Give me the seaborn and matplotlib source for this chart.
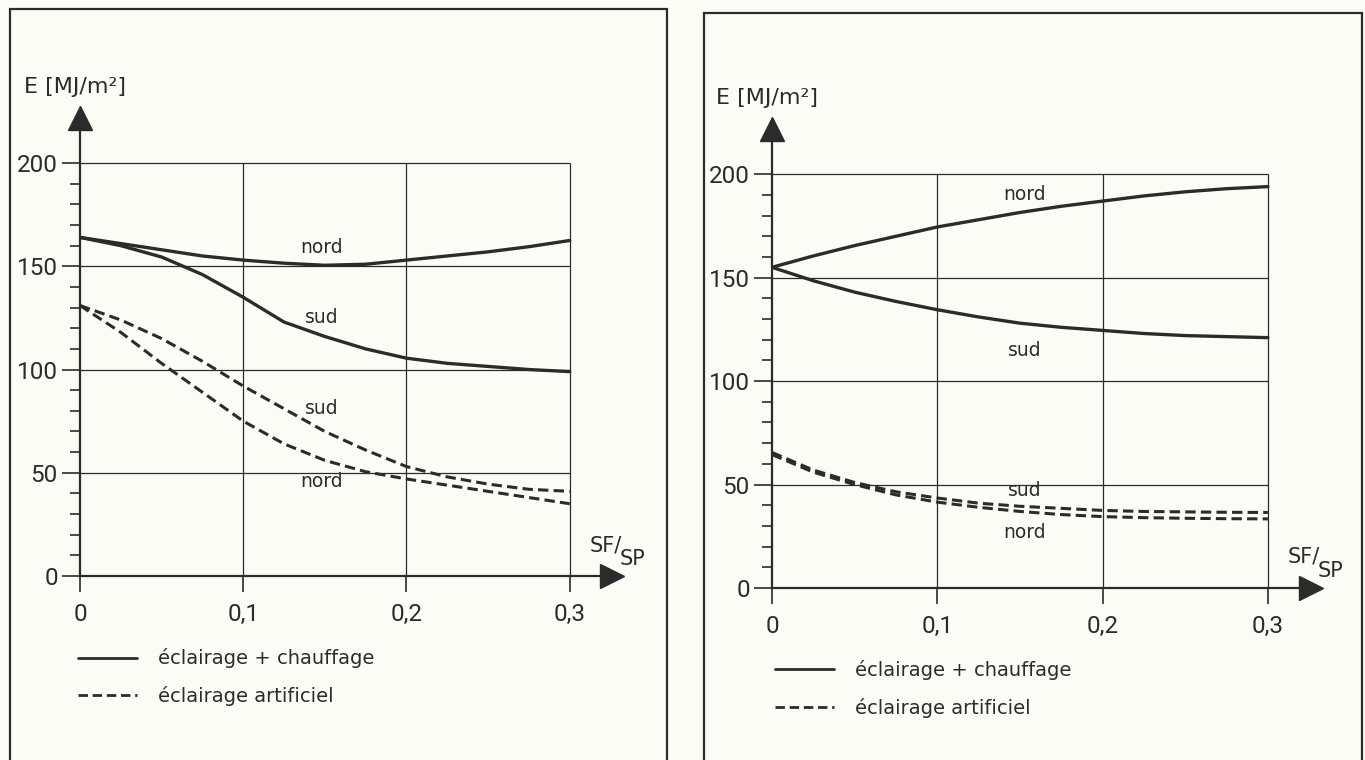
import matplotlib
matplotlib.use("Agg")
import matplotlib.pyplot as plt
import seaborn as sns
import pandas as pd
from matplotlib.lines import Line2D
from matplotlib.patches import Rectangle

# ---------------- data ----------------
ratio = [0.0, 0.025, 0.05, 0.075, 0.1, 0.125, 0.15, 0.175, 0.2, 0.225, 0.25, 0.275, 0.3]

# left panel
left_nord_total = [164, 161, 158, 155, 153, 151.5, 150.5, 151, 153, 155, 157, 159.5, 162.5]
left_sud_total = [164, 160, 154.5, 146, 135, 123, 116, 110, 105.5, 103, 101.5, 100, 99]
left_sud_light = [131, 124, 115, 104, 92, 81, 70, 61, 53, 48, 44.5, 42, 41]
left_nord_light = [131, 118, 103, 89, 75, 64, 56, 50.5, 47, 44, 41, 38, 35]

# right panel
right_nord_total = [155, 160.5, 165.5, 170, 174.5, 178, 181.5, 184.5, 187, 189.5, 191.5, 193, 194]
right_sud_total = [155, 148.5, 143, 138.5, 134.5, 131, 128, 126, 124.5, 123, 122, 121.5, 121]
right_sud_light = [65.5, 57, 51, 46.5, 43.5, 41, 39.5, 38.5, 37.5, 37, 36.8, 36.6, 36.5]
right_nord_light = [64.5, 56, 50, 45, 41.5, 39, 37, 35.5, 34.5, 34, 33.7, 33.5, 33.4]

y_major = [0, 50, 100, 150, 200]
y_minor = list(range(0, 201, 10))
x_ticks = [0, 0.1, 0.2, 0.3]
x_tick_labels = ["0", "0,1", "0,2", "0,3"]
y_tick_labels = ["0", "50", "100", "150", "200"]
legend_labels = ["éclairage + chauffage", "éclairage artificiel"]
y_title = "E [MJ/m²]"
x_title_a, x_title_b = "SF/", "SP"

# curve label positions (text annotations)
left_labels = [("nord", 0.148, 159), ("sud", 0.148, 125), ("sud", 0.148, 81), ("nord", 0.148, 46)]
right_labels = [("nord", 0.153, 190), ("sud", 0.153, 115), ("sud", 0.153, 47), ("nord", 0.153, 27)]

# ---------------- style ----------------
sns.set_theme(style="white")
plt.rcParams["font.family"] = ["DejaVu Sans"]
NARROW = ["Roboto", "DejaVu Sans"]
INK = "#2b2b2b"
BG = "#fcfcf7"
DASH = (0, (3.4, 1.7))

fig = plt.figure(figsize=(13.65, 7.6), dpi=100, facecolor=BG)

# panel frames
fig.patches.append(Rectangle((10 / 1365, -0.02), 657 / 1365, 1.02 - 9 / 760,
                             transform=fig.transFigure, fill=False, lw=1.6, ec=INK))
fig.patches.append(Rectangle((704 / 1365, -0.02), 658 / 1365, 1.02 - 13 / 760,
                             transform=fig.transFigure, fill=False, lw=1.6, ec=INK))


def make_df(nord_t, sud_t, sud_l, nord_l):
    rows = []
    for name, usage, vals in [("nord", "total", nord_t), ("sud", "total", sud_t),
                              ("sud", "light", sud_l), ("nord", "light", nord_l)]:
        for r, v in zip(ratio, vals):
            rows.append({"ratio": r, "E": v, "orientation": name, "usage": usage})
    return pd.DataFrame(rows)


def panel(rect, df, labels, leg_anchor):
    ax = fig.add_axes(rect)
    ax.set_facecolor("none")
    ax.set_xlim(0, 0.34)
    ax.set_ylim(0, 232)

    # grid frame
    ax.hlines(y_major[1:], 0, 0.3, color=INK, lw=0.9, zorder=1)
    ax.vlines(x_ticks[1:], 0, 200, color=INK, lw=0.9, zorder=1)

    # curves
    sns.lineplot(data=df[df.usage == "total"], x="ratio", y="E", units="orientation",
                 estimator=None, color=INK, lw=2.4, ax=ax, legend=False, zorder=3)
    sns.lineplot(data=df[df.usage == "light"], x="ratio", y="E", units="orientation",
                 estimator=None, color=INK, lw=2.2, linestyle=DASH, ax=ax,
                 legend=False, zorder=3)

    # axes
    for s in ["top", "right"]:
        ax.spines[s].set_visible(False)
    ax.spines["left"].set_bounds(0, 222)
    ax.spines["bottom"].set_bounds(0, 0.326)
    for s in ["left", "bottom"]:
        ax.spines[s].set_color(INK)
        ax.spines[s].set_linewidth(1.6)
    ax.plot([0], [222], marker="^", ms=17, color=INK, clip_on=False, zorder=5)
    ax.plot([0.326], [0], marker=">", ms=17, color=INK, clip_on=False, zorder=5)

    ax.set_yticks(y_major)
    ax.set_yticklabels(y_tick_labels, family=NARROW, fontsize=17.5, color=INK)
    ax.set_yticks(y_minor, minor=True)
    ax.set_xticks(x_ticks)
    ax.set_xticklabels(x_tick_labels, family=NARROW, fontsize=17.5, color=INK)
    ax.tick_params(axis="y", which="major", direction="out", length=13, width=1.2,
                   pad=3, colors=INK, left=True)
    ax.tick_params(axis="y", which="minor", direction="out", length=7, width=1.2,
                   colors=INK, left=True)
    ax.tick_params(axis="x", which="major", direction="out", length=11.5, width=1.2,
                   pad=8, colors=INK, bottom=True)
    ax.set_xlabel("")
    ax.set_ylabel("")

    ax.text(-0.1, 1.02, y_title, transform=ax.transAxes, ha="left", va="center",
            fontsize=16, color=INK)
    t1 = ax.text(0.312, 15, x_title_a, ha="left", va="center", fontsize=15, color=INK)
    ax.annotate(x_title_b, xy=(0.93, 0.3), xycoords=t1, ha="left", va="top",
                fontsize=15, color=INK)

    for txt, x, y in labels:
        ax.text(x, y, txt, ha="center", va="center", fontsize=13.5, color=INK, zorder=4)

    handles = [Line2D([], [], color=INK, lw=2.0),
               Line2D([], [], color=INK, lw=2.0, linestyle=DASH)]
    ax.legend(handles, legend_labels, loc="center left", bbox_to_anchor=leg_anchor,
              frameon=False, fontsize=14, handlelength=3.05, handletextpad=1.05,
              labelspacing=0.9, borderpad=0, borderaxespad=0,
              labelcolor=INK)
    return ax


df_left = make_df(left_nord_total, left_sud_total, left_sud_light, left_nord_light)
df_right = make_df(right_nord_total, right_sud_total, right_sud_light, right_nord_light)

panel([80 / 1365, (760 - 576) / 760, 555 / 1365, 479 / 760], df_left, left_labels,
      (-0.004, -0.211))
panel([772 / 1365, (760 - 588) / 760, 562 / 1365, 480 / 760], df_right, right_labels,
      (0.005, -0.21))

fig.savefig("out.png", dpi=100, facecolor=BG)
